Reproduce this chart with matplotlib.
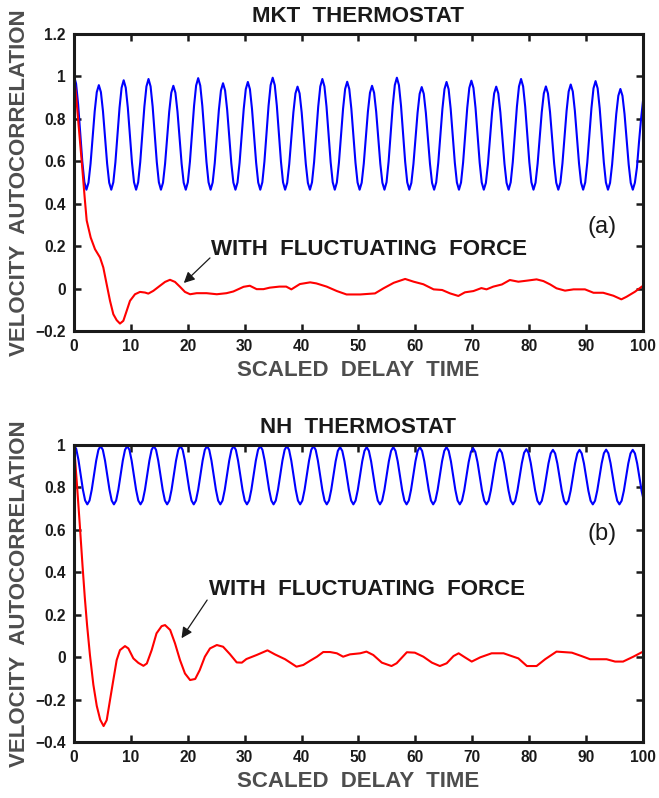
import numpy as np
import matplotlib
matplotlib.use('Agg')
import matplotlib.pyplot as plt
from matplotlib.ticker import FuncFormatter

# ---- panel (a): MKT thermostat ----
# blue curve, one sample every dt_mkt (12 per oscillation)
dt_mkt = 0.36375
vac_mkt = [
    1.000, .964, .866, .733, .599, .501, .465, .498, .588, .711, .834, .924,
    .957, .924, .834, .711, .588, .498, .465, .500, .594, .723, .851, .945,
    .980, .945, .851, .723, .594, .500, .465, .500, .595, .726, .856, .951,
    .986, .951, .856, .726, .595, .500, .465, .498, .587, .710, .832, .921,
    .954, .921, .832, .710, .587, .498, .465, .500, .596, .728, .859, .955,
    .990, .955, .859, .728, .596, .500, .465, .499, .590, .716, .841, .932,
    .966, .932, .841, .716, .590, .499, .465, .499, .592, .719, .845, .938,
    .972, .938, .845, .719, .592, .499, .465, .500, .597, .729, .860, .957,
    .992, .957, .860, .729, .597, .500, .465, .497, .586, .708, .829, .918,
    .950, .918, .829, .708, .586, .497, .465, .500, .595, .726, .856, .951,
    .986, .951, .856, .726, .595, .500, .465, .499, .592, .719, .846, .939,
    .973, .939, .846, .719, .592, .499, .465, .498, .587, .710, .832, .921,
    .954, .921, .832, .710, .587, .498, .465, .500, .597, .729, .860, .957,
    .992, .957, .860, .729, .597, .500, .465, .497, .586, .707, .827, .916,
    .948, .916, .827, .707, .586, .497, .465, .499, .592, .719, .845, .938,
    .972, .938, .845, .719, .592, .499, .465, .499, .593, .722, .850, .944,
    .978, .944, .850, .722, .593, .499, .465, .497, .586, .708, .829, .918,
    .950, .918, .829, .708, .586, .497, .465, .500, .595, .726, .856, .951,
    .986, .951, .856, .726, .595, .500, .465, .498, .587, .708, .830, .918,
    .951, .918, .830, .708, .587, .498, .465, .498, .589, .713, .836, .927,
    .960, .927, .836, .713, .589, .498, .465, .499, .593, .721, .848, .942,
    .976, .942, .848, .721, .593, .499, .465, .497, .584, .702, .821, .907,
    .939, .907, .821, .702, .584, .497, .465, .498, .570, .690, .800, .890,
    .950,
]
t_force_mkt = [
    0, 0.4, 0.8, 1.35, 1.9, 2.23, 2.93, 3.69, 4.57, 5.15,
    5.74, 6.33, 6.91, 7.5, 8.08, 8.67, 9.26, 9.84, 10.72, 11.6,
    12.48, 13.06, 13.94, 15.11, 16.0, 16.87, 17.75, 18.63, 19.5, 20.4,
    21.56, 23.3, 25.1, 26.8, 28.0, 29.8, 30.9, 32.1, 33.3, 34.4,
    36.1, 37.3, 38.2, 39.7, 41.5, 42.6, 44.4, 46.2, 47.9, 50.3,
    52.9, 54.4, 56.2, 58.2, 59.7, 61.4, 63.2, 64.7, 66.1, 67.55,
    68.7, 70.2, 71.6, 72.5, 73.7, 75.2, 76.6, 78.1, 79.6, 81.3,
    82.5, 83.7, 84.8, 86.3, 87.8, 89.8, 91.3, 93.0, 94.8, 96.2,
    97.1, 98.6, 99.8, 100,
]
vac_force_mkt = [
    1.0, 0.9, 0.77, 0.6, 0.42, 0.32, 0.24, 0.185, 0.146, 0.099,
    0.02, -0.058, -0.121, -0.149, -0.165, -0.152, -0.105, -0.058, -0.027, -0.016,
    -0.019, -0.024, -0.011, 0.013, 0.031, 0.041, 0.031, 0.008, -0.016, -0.027,
    -0.022, -0.022, -0.027, -0.022, -0.014, 0.008, 0.013, -0.003, -0.003, 0.004,
    0.009, 0.009, -0.004, 0.021, 0.029, 0.024, 0.009, -0.012, -0.028, -0.028,
    -0.023, 0.001, 0.027, 0.045, 0.032, 0.020, -0.004, -0.007, -0.023, -0.035,
    -0.018, -0.012, 0.002, -0.004, 0.009, 0.019, 0.040, 0.032, 0.037, 0.043,
    0.035, 0.019, 0.001, -0.010, -0.004, -0.004, -0.020, -0.020, -0.034, -0.051,
    -0.039, -0.015, 0.009, 0.012,
]

# ---- panel (b): NH thermostat ----
dt_nh = 0.38967
vac_nh = [
    1.000, .981, .930, .860, .790, .739, .72, .738, .789, .858, .926, .977,
    .995, .977, .926, .858, .789, .738, .72, .738, .789, .858, .926, .977,
    .995, .977, .926, .858, .789, .738, .72, .738, .789, .858, .926, .977,
    .995, .977, .926, .858, .789, .738, .72, .738, .789, .858, .926, .977,
    .995, .977, .926, .858, .789, .738, .72, .738, .789, .858, .926, .977,
    .995, .977, .926, .858, .789, .738, .72, .738, .789, .858, .926, .977,
    .995, .977, .926, .858, .789, .738, .72, .738, .789, .858, .926, .977,
    .995, .977, .926, .858, .789, .738, .72, .738, .789, .858, .926, .977,
    .995, .977, .926, .858, .789, .738, .72, .738, .789, .858, .926, .977,
    .995, .977, .926, .858, .789, .738, .72, .738, .788, .855, .923, .972,
    .990, .972, .923, .855, .788, .738, .72, .738, .788, .855, .923, .972,
    .990, .972, .923, .855, .788, .738, .72, .738, .788, .855, .923, .972,
    .990, .972, .923, .855, .788, .738, .72, .738, .788, .855, .923, .972,
    .990, .972, .923, .855, .788, .738, .72, .738, .788, .855, .923, .972,
    .990, .972, .923, .855, .788, .738, .72, .738, .786, .853, .919, .967,
    .985, .967, .919, .853, .786, .738, .72, .737, .785, .850, .915, .963,
    .980, .963, .915, .850, .785, .737, .72, .737, .785, .850, .915, .963,
    .980, .963, .915, .850, .785, .737, .72, .737, .784, .849, .913, .960,
    .977, .960, .913, .849, .784, .737, .72, .737, .784, .849, .913, .960,
    .977, .960, .913, .849, .784, .737, .72, .737, .785, .849, .914, .961,
    .978, .961, .914, .849, .785, .737, .72, .737, .784, .849, .913, .960,
    .977, .960, .913, .849, .784, .737, .72,
]
t_force_nh = [
    0, 0.5, 1.0, 1.5, 1.9, 2.3, 2.8, 3.4, 4.0, 4.6,
    5.2, 5.75, 6.33, 6.91, 7.5, 8.08, 8.96, 9.55, 10.43, 11.3,
    12.2, 12.8, 13.65, 14.5, 15.4, 16.0, 16.9, 17.75, 18.63, 19.5,
    20.4, 21.3, 22.1, 23.0, 23.9, 25.1, 26.2, 27.4, 28.6, 29.5,
    30.3, 32.1, 34.0, 35.3, 37.1, 39.1, 40.3, 41.5, 42.7, 43.8,
    45.0, 46.2, 47.3, 48.5, 50.3, 51.4, 52.6, 54.1, 55.8, 56.7,
    58.5, 59.9, 61.4, 62.9, 64.3, 65.5, 66.7, 67.6, 68.7, 69.9,
    71.4, 73.4, 75.5, 76.9, 78.1, 79.6, 81.3, 82.8, 84.8, 87.5,
    89.2, 90.7, 93.6, 95.1, 96.5, 98.3, 99.8, 100,
]
vac_force_nh = [
    1.0, 0.82, 0.63, 0.43, 0.28, 0.15, 0.01, -0.13, -0.23, -0.295,
    -0.325, -0.297, -0.202, -0.108, -0.014, 0.033, 0.052, 0.041, -0.006, -0.027,
    -0.041, -0.030, 0.033, 0.112, 0.146, 0.151, 0.128, 0.065, -0.014, -0.077,
    -0.108, -0.103, -0.061, 0.002, 0.041, 0.057, 0.049, 0.014, -0.025, -0.026,
    -0.009, 0.010, 0.032, 0.013, -0.010, -0.045, -0.037, -0.017, 0.002, 0.024,
    0.024, 0.018, 0.002, 0.013, 0.018, 0.026, 0.010, -0.026, -0.042, -0.029,
    0.023, 0.021, 0.002, -0.026, -0.042, -0.029, 0.005, 0.018, -0.001, -0.021,
    -0.001, 0.018, 0.018, 0.005, -0.006, -0.042, -0.042, -0.010, 0.026, 0.021,
    0.005, -0.010, -0.010, -0.021, -0.021, 0.002, 0.023, 0.024,
]

x_ticks = [0, 10, 20, 30, 40, 50, 60, 70, 80, 90, 100]
y_ticks_mkt = [-0.2, 0, 0.2, 0.4, 0.6, 0.8, 1.0, 1.2]
y_ticks_nh = [-0.4, -0.2, 0, 0.2, 0.4, 0.6, 0.8, 1.0]

plt.rcParams['font.family'] = ['Liberation Sans', 'DejaVu Sans']
plt.rcParams['font.weight'] = 'bold'

dark = '#1a1a1a'
grey = '#4d4d4d'

fig = plt.figure(figsize=(6.59, 7.98), dpi=100)
ax1 = fig.add_axes([0.1123, 0.5852, 0.8634, 0.3728])
ax2 = fig.add_axes([0.1123, 0.0702, 0.8634, 0.3722])


def fmt(v, pos):
    return f'{round(v, 2):g}'.replace('-', '\u2212')


panels = [
    (ax1, dt_mkt, vac_mkt, t_force_mkt, vac_force_mkt, y_ticks_mkt,
     'MKT  THERMOSTAT', '(a)', (90.2, 0.261), (24.0, 0.158), (19.3, 0.026), (23.9, 0.144)),
    (ax2, dt_nh, vac_nh, t_force_nh, vac_force_nh, y_ticks_nh,
     'NH  THERMOSTAT', '(b)', (90.2, 0.552), (23.7, 0.293), (18.9, 0.089), (23.4, 0.269)),
]

for ax, dt, vac, tf, vf, yt, title, tag, tagpos, txtpos, tip, tail in panels:
    t = np.arange(len(vac)) * dt
    ax.plot(t, vac, color='blue', lw=1.5, solid_joinstyle='round')
    ax.plot(tf, vf, color='red', lw=1.5, solid_joinstyle='round')
    ax.set_xlim(0, 100)
    ax.set_ylim(yt[0], yt[-1])
    ax.set_xticks(x_ticks)
    ax.set_yticks(yt)
    ax.yaxis.set_major_formatter(FuncFormatter(fmt))
    ax.tick_params(direction='in', top=True, right=True, length=5, width=1.8,
                   labelsize=11.2, pad=6, colors=dark)
    for s in ax.spines.values():
        s.set_linewidth(2.2)
        s.set_color(dark)
    ax.set_title(title, fontsize=16, fontweight='bold', color=dark, pad=8.5)
    ax.set_xlabel('SCALED  DELAY  TIME', fontsize=16, fontweight='bold', color=grey)
    ax.set_ylabel('VELOCITY  AUTOCORRELATION', fontsize=16, fontweight='bold', color=grey)
    ax.xaxis.set_label_coords(0.5, -0.0975)
    ax.yaxis.set_label_coords(-0.078, 0.5)
    ax.text(tagpos[0], tagpos[1], tag, fontsize=17, fontweight='normal', color=dark)
    ax.text(txtpos[0], txtpos[1], 'WITH  FLUCTUATING  FORCE', fontsize=16,
            fontweight='bold', color=dark)
    ax.annotate('', xy=tip, xytext=tail,
                arrowprops=dict(arrowstyle='-|>', color=dark, lw=0.9,
                                mutation_scale=16, shrinkA=0, shrinkB=0))

fig.savefig('out.png', dpi=100)
